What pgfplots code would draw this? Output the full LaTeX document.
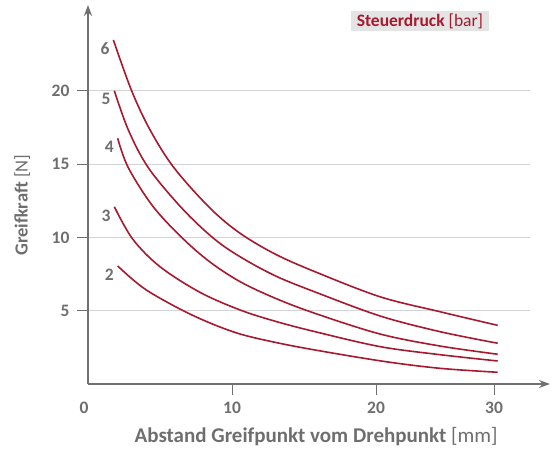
\documentclass[border=0pt]{standalone}
\usepackage{pgfplots}
\pgfplotsset{compat=1.18}
\usetikzlibrary{arrows.meta}
\usepackage{fontspec}
\setmainfont{Carlito}
\definecolor{cred}{HTML}{A6192E}
\definecolor{tgray}{HTML}{6E6E6E}
\definecolor{agray}{HTML}{707070}
\definecolor{ggray}{HTML}{D4D4D4}
\definecolor{tbox}{HTML}{E4E4E4}
\tikzset{curve/.style={cred, line width=1.6bp, smooth, tension=0.55, mark=none}}
\begin{document}
\begin{tikzpicture}
\begin{axis}[
  at={(0,0)}, anchor=south west,
  scale only axis, width=442bp, height=379bp,
  x coord trafo/.code={\pgfmathparse{#1<=20 ? #1 : 20+(#1-20)*0.8194}},
  xmin=0, xmax=33.05, ymin=0, ymax=25.85,
  axis lines=left,
  axis line style={agray, line width=1.2bp},
  x axis line style={-{Stealth[length=11bp,width=8bp]}, shorten >=-20bp},
  y axis line style={-{Stealth[length=11bp,width=8bp]}},
  tick align=outside, major tick length=11bp,
  tick style={agray, line width=1bp},
  xtick={10,20,30}, xticklabels={10,20,30},
  extra x ticks={0}, extra x tick labels={0},
  extra x tick style={major tick length=0pt, tick label style={xshift=-4bp, yshift=-11bp}},
  ytick={5,10,15,20}, yticklabels={5,10,15,20},
  ymajorgrids, grid style={ggray, line width=1bp},
  /pgf/number format/assume math mode=true,
  tick label style={font=\fontsize{17.5bp}{20bp}\selectfont\bfseries, text=tgray},
  xticklabel style={yshift=-4bp},
  yticklabel style={xshift=-4bp},
  xlabel={\textbf{Abstand Greifpunkt vom Drehpunkt} [mm]},
  ylabel={\textbf{Greifkraft} [N]},
  xlabel style={at={(axis description cs:0.516,-0.14)}, anchor=center,
    font=\fontsize{21bp}{24bp}\selectfont, text=tgray},
  ylabel style={at={(axis description cs:-0.149,0.472)}, anchor=center,
    font=\fontsize{18.5bp}{22bp}\selectfont, text=tgray},
  title={\textbf{Steuerdruck} [bar]},
  title style={at={(axis description cs:0.751,0.942)}, anchor=center, fill=tbox, text=cred,
    font=\fontsize{17.5bp}{20bp}\selectfont, inner xsep=6bp, inner ysep=2.5bp},
  clip=false,
]
\tikzset{lab/.style={pos=0, anchor=north east, inner sep=0pt, xshift=-3bp, yshift=-2bp,
  text=tgray, font=\fontsize{17.5bp}{20bp}\selectfont\bfseries}}
% 6 bar
\addplot[curve] coordinates {(1.76,23.47) (3.03,20.0) (4.31,17.33) (5.97,14.75) (8.47,12.0) (10.56,10.28) (13.0,8.86) (15.76,7.66) (20.34,5.95) (25.42,4.93) (30.31,4.0)} node[lab] {6};
% 5 bar
\addplot[curve] coordinates {(1.83,20.0) (2.80,17.33) (4.19,14.75) (6.51,12.0) (8.70,9.95) (10.56,8.68) (13.0,7.38) (15.76,6.28) (20.34,4.64) (25.42,3.57) (30.31,2.78)} node[lab] {5};
% 4 bar
\addplot[curve] coordinates {(2.06,16.76) (2.80,14.75) (4.53,12.09) (6.62,9.89) (8.5,8.3) (10.56,6.98) (13.0,5.85) (15.76,4.82) (20.34,3.41) (25.42,2.59) (30.31,2.03)} node[lab] {4};
% 3 bar
\addplot[curve] coordinates {(1.83,12.09) (3.10,9.89) (5.0,8.0) (7.78,6.25) (10.56,5.05) (13.0,4.28) (15.76,3.57) (20.34,2.55) (25.42,2.0) (30.31,1.57)} node[lab] {3};
% 2 bar
\addplot[curve] coordinates {(2.06,8.05) (3.15,7.09) (4.31,6.25) (6.51,5.05) (8.5,4.15) (10.56,3.41) (13.0,2.84) (15.76,2.32) (20.6,1.55) (25.42,1.07) (30.31,0.80)} node[lab] {2};
\end{axis}
\pgfresetboundingbox
\path (-88bp,-67bp) rectangle (464bp,384bp);
\end{tikzpicture}
\end{document}
